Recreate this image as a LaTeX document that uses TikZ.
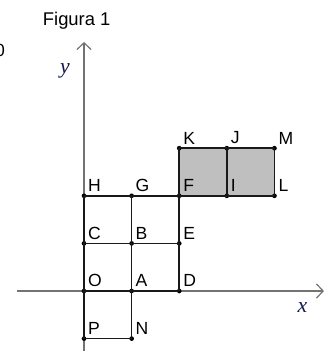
\documentclass[tikz,border=0pt]{standalone}
\usepackage{fontspec}
\setmainfont{Liberation Sans}
\newfontfamily\axisfont{Liberation Serif}
\usetikzlibrary{arrows.meta,positioning}
\definecolor{axislbl}{rgb}{0.08,0.10,0.30}

\begin{document}
\begin{tikzpicture}[
    pt/.style={circle, fill=black, inner sep=0pt, minimum size=2.8pt},
    lbl/.style={inner sep=0pt, font=\fontsize{10.5}{12}\selectfont, label distance=1.6pt},
    seg/.style={line width=1pt, draw=black!90},
    axis/.style={line width=0.7pt, draw=black!55, -{Straight Barb[length=4pt, width=8.5pt, line width=0.7pt]}},
    axlbl/.style={font=\axisfont\itshape\fontsize{13}{15}\selectfont, text=axislbl}
]
    \useasboundingbox (-1.765,-1.26) rectangle (5.105,6.113);

    % shaded rectangle
    \fill[black!25] (2,2) rectangle (4,3);

    % axes
    \coordinate (xmin) at (-1.41,0);
    \coordinate (xmax) at (5.04,0);
    \coordinate (ymin) at (0,-1.3);
    \coordinate (ymax) at (0,5.23);
    \draw[axis] (xmin) -- (xmax);
    \draw[axis] (ymin) -- (ymax);
    \node[axlbl] (xl) at (4.59,-0.34) {x};
    \node[axlbl] (yl) at (-0.40,4.62) {y};

    % points
    \node[pt, label={[lbl]north east:O}] (O) at (0,0) {};
    \node[pt, label={[lbl]north east:A}] (A) at (1,0) {};
    \node[pt, label={[lbl]north east:D}] (D) at (2,0) {};
    \node[pt, label={[lbl]north east:C}] (C) at (0,1) {};
    \node[pt, label={[lbl]north east:B}] (B) at (1,1) {};
    \node[pt, label={[lbl]north east:E}] (E) at (2,1) {};
    \node[pt, label={[lbl]north east:H}] (H) at (0,2) {};
    \node[pt, label={[lbl]north east:G}] (G) at (1,2) {};
    \node[pt, label={[lbl]north east:F}] (F) at (2,2) {};
    \node[pt, label={[lbl]north east:I}] (I) at (3,2) {};
    \node[pt, label={[lbl]north east:L}] (L) at (4,2) {};
    \node[pt, label={[lbl]north east:K}] (K) at (2,3) {};
    \node[pt, label={[lbl]north east:J}] (J) at (3,3) {};
    \node[pt, label={[lbl]north east:M}] (M) at (4,3) {};
    \node[pt, label={[lbl]north east:P}] (P) at (0,-1) {};
    \node[pt, label={[lbl]north east:N}] (N) at (1,-1) {};

    % grid
    \draw[seg] (O.center) -- (D.center);
    \draw[seg] (C.center) -- (E.center);
    \draw[seg] (H.center) -- (L.center);
    \draw[seg] (K.center) -- (M.center);
    \draw[seg] (P.center) -- (N.center);
    \draw[seg] (P.center) -- (H.center);
    \draw[seg] (N.center) -- (G.center);
    \draw[seg] (D.center) -- (K.center);
    \draw[seg] (I.center) -- (J.center);
    \draw[seg] (L.center) -- (M.center);

    \node[font=\fontsize{11}{13}\selectfont, anchor=base] (title) at (-0.154,5.567) {Figura 1};
    \node[font=\fontsize{10.5}{12}\selectfont, inner sep=0pt, anchor=east] (cut) at (-1.655,5.06) {0};
\end{tikzpicture}
\end{document}
